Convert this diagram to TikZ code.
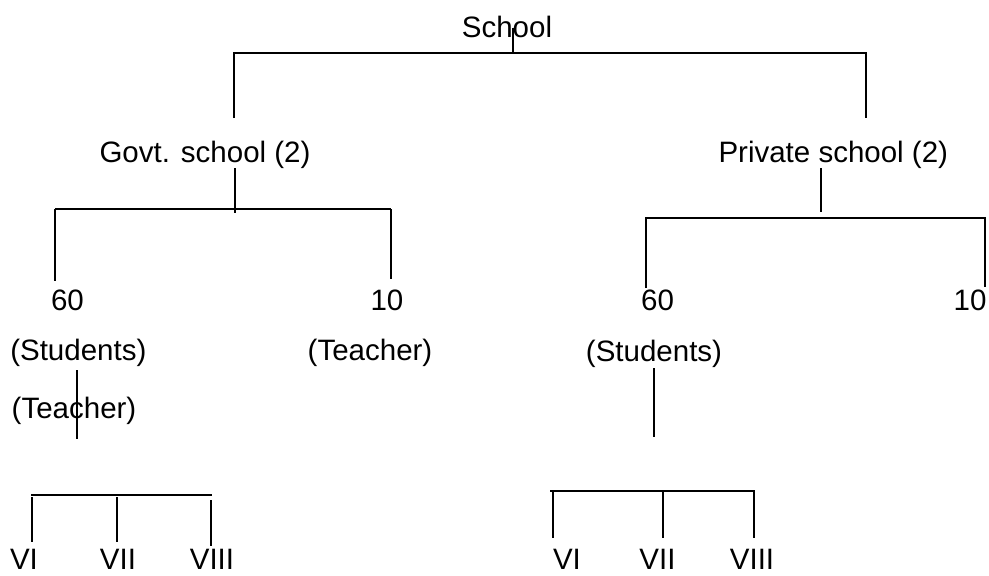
\documentclass[tikz,border=0pt]{standalone}
\usepackage{fontspec}
\setmainfont{Liberation Sans}
\begin{document}
\begin{tikzpicture}[x=1pt,y=-1pt,
  line width=2pt,
  txt/.style={inner sep=0pt, anchor=base, font=\fontsize{29.5}{35}\selectfont}]
\useasboundingbox (0,0) rectangle (989,576);
\fill[white] (0,0) rectangle (989,576);

% ---- root ----
\node[txt] (school) at (507,37.5) {School};
\coordinate (s0) at (513,28);
\coordinate (s1) at (513,52.5);
\coordinate (sl) at (234,52.5);
\coordinate (sr) at (866,52.5);
\coordinate (slb) at (234,118);
\coordinate (srb) at (866,118);
\draw (s0) -- (s1);
\draw (slb) -- (sl) -- (sr) -- (srb);

% ---- govt branch ----
\node[txt] (govt) at (205,162.5) {Govt. school (2)};
\coordinate (g0) at (235,168);
\coordinate (g1) at (235,212.5);
\coordinate (gl) at (55,209);
\coordinate (gr) at (391,209);
\coordinate (glb) at (55,281);
\coordinate (grb) at (391,279);
\draw (g0) -- (g1);
\draw (gl) -- (gr);
\draw (gl) -- (glb);
\draw (gr) -- (grb);

\node[txt] (g60) at (67.5,310.5) {60};
\node[txt] (g10) at (387,310.5) {10};
\node[txt] (gstud) at (78.3,360.5) {(Students)};
\node[txt] (gteach) at (370,360.5) {(Teacher)};
\node[txt] (gteach2) at (74,418) {(Teacher)};
\coordinate (gt0) at (77,370);
\coordinate (gt1) at (77,439);
\draw (gt0) -- (gt1);

\coordinate (gcl) at (31,495);
\coordinate (gcm) at (117,495);
\coordinate (gcr) at (212,495);
\draw (gcl) -- (gcr);
\coordinate (gclb) at (31.7,542);
\coordinate (gcmb) at (117,542);
\coordinate (gcrb) at (210.7,546);
\draw (31.7,497) -- (gclb);
\draw (117,497) -- (gcmb);
\draw (210.7,500) -- (gcrb);
\node[txt] (gvi) at (24,569) {VI};
\node[txt] (gvii) at (118,569) {VII};
\node[txt] (gviii) at (212,569) {VIII};

% ---- private branch ----
\node[txt] (priv) at (833.3,162.5) {Private school (2)};
\coordinate (p0) at (821,168);
\coordinate (p1) at (821,212);
\coordinate (pl) at (645.5,218);
\coordinate (pr) at (985,218);
\coordinate (plb) at (645.5,288);
\coordinate (prb) at (985,287);
\draw (p0) -- (p1);
\draw (plb) -- (pl) -- (pr) -- (prb);

\node[txt] (p60) at (657.5,310.5) {60};
\node[txt] (p10) at (970,310.5) {10};
\node[txt] (pstud) at (654,361) {(Students)};
\coordinate (pt0) at (654,368);
\coordinate (pt1) at (654,437);
\draw (pt0) -- (pt1);

\coordinate (pcl) at (550,491);
\coordinate (pcm) at (663,491);
\coordinate (pcr) at (755,491);
\draw (pcl) -- (pcr);
\coordinate (pclb) at (553,538);
\coordinate (pcmb) at (663,538);
\coordinate (pcrb) at (754,538);
\draw (553,491) -- (pclb);
\draw (pcm) -- (pcmb);
\draw (754,491) -- (pcrb);
\node[txt] (pvi) at (567,569) {VI};
\node[txt] (pvii) at (657.5,569) {VII};
\node[txt] (pviii) at (752,569) {VIII};
\end{tikzpicture}
\end{document}
